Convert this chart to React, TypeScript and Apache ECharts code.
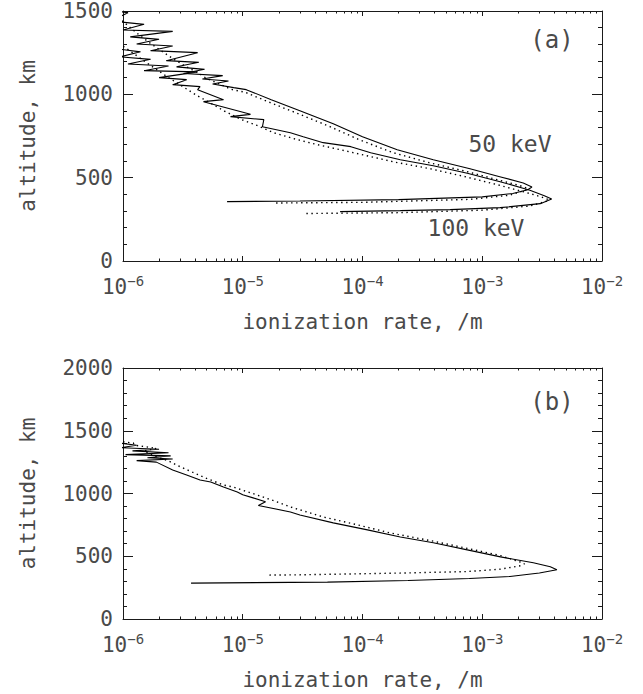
import React, { useEffect, useRef } from "react";
import * as echarts from "echarts";

// ---------- data (ionization rate [/m], altitude [km]) ----------
const X_MIN = 1e-6;
const X_MAX = 1e-2;
const Y_MAX_A = 1500;
const Y_MAX_B = 2000;
const Y_STEP = 500;

// Panel (a), 50 keV, solid
const A50_SOLID: number[][] = [
  [7.4e-6, 356], [3.0e-5, 360], [2.0e-4, 368], [1.0e-3, 385], [1.8e-3, 405], [2.4e-3, 428], [2.6e-3, 444],
  [2.2e-3, 468], [1.4e-3, 506], [7.9e-4, 554], [3.9e-4, 608], [1.95e-4, 668], [1.0e-4, 746], [5.7e-5, 824],
  [3.0e-5, 902], [1.73e-5, 968], [1.07e-5, 1028], [8.4e-6, 1040], [5.6e-6, 1062], [7.6e-6, 1080], [4.6e-6, 1092],
  [6.8e-6, 1112], [3.2e-6, 1125], [4.8e-6, 1150], [2.8e-6, 1165], [4.3e-6, 1192], [2.3e-6, 1202], [4.2e-6, 1250],
  [1.7e-6, 1262], [2.6e-6, 1290], [1.3e-6, 1302], [2.0e-6, 1330], [1.15e-6, 1345], [2.6e-6, 1378], [1.0e-6, 1386],
  [1.5e-6, 1420], [0.8e-6, 1440], [1.1e-6, 1490], [0.7e-6, 1510],
];
// Panel (a), 50 keV, dotted
const A50_DOT: number[][] = [
  [1.9e-5, 348], [1.0e-4, 352], [8.0e-4, 370], [1.7e-3, 395], [2.3e-3, 425], [2.4e-3, 436],
  [2.0e-3, 455], [1.3e-3, 490], [7.3e-4, 538], [3.6e-4, 590], [1.8e-4, 650], [9.5e-5, 726], [5.4e-5, 805],
  [2.9e-5, 884], [1.7e-5, 950], [1.05e-5, 1012], [8.0e-6, 1030], [6.5e-6, 1060], [5.0e-6, 1095], [4.2e-6, 1130],
  [3.3e-6, 1170], [2.6e-6, 1215], [2.1e-6, 1260], [1.7e-6, 1305], [1.4e-6, 1350], [1.15e-6, 1400], [0.95e-6, 1450],
];
// Panel (a), 100 keV, solid
const A100_SOLID: number[][] = [
  [6.5e-5, 296], [2.07e-4, 302], [5.4e-4, 308], [1.41e-3, 320], [3.05e-3, 344], [3.8e-3, 372],
  [3.3e-3, 392], [2.5e-3, 425], [1.41e-3, 476], [7.5e-4, 526], [3.9e-4, 572], [2.07e-4, 608], [1.17e-4, 650],
  [8.0e-5, 686], [4.7e-5, 710], [3.2e-5, 746], [2.5e-5, 770], [1.46e-5, 806], [1.5e-5, 848], [7.9e-6, 866],
  [1.16e-5, 880], [4.7e-6, 956], [6.9e-6, 968], [4.2e-6, 1028], [4.4e-6, 1046], [2.6e-6, 1058], [3.4e-6, 1088],
  [2.0e-6, 1100], [4.2e-6, 1135], [1.5e-6, 1142], [2.4e-6, 1170], [1.1e-6, 1182], [1.7e-6, 1210], [0.95e-6, 1225],
  [1.4e-6, 1255], [0.85e-6, 1275],
];
// Panel (a), 100 keV, dotted
const A100_DOT: number[][] = [
  [3.4e-5, 285], [2.0e-4, 290], [1.0e-3, 305], [2.5e-3, 330], [3.5e-3, 360], [3.6e-3, 368],
  [3.1e-3, 385], [2.3e-3, 412], [1.3e-3, 460], [7.0e-4, 508], [3.6e-4, 555], [1.9e-4, 592], [1.08e-4, 632],
  [6.5e-5, 668], [4.2e-5, 698], [2.8e-5, 730], [1.8e-5, 770], [1.3e-5, 815], [9.5e-6, 852], [7.0e-6, 900],
  [5.3e-6, 950], [4.0e-6, 1000], [3.1e-6, 1050], [2.4e-6, 1100], [1.9e-6, 1150], [1.5e-6, 1200], [1.2e-6, 1250],
  [0.95e-6, 1300],
];
// Panel (b), solid
const B_SOLID: number[][] = [
  [3.7e-6, 286], [5.1e-5, 294], [2.4e-4, 307], [7.8e-4, 323], [1.7e-3, 339], [3.0e-3, 366], [4.2e-3, 392],
  [3.7e-3, 416], [2.67e-3, 448], [1.42e-3, 495], [7.5e-4, 551], [3.9e-4, 607], [2.07e-4, 654], [1.1e-4, 710],
  [5.7e-5, 766], [3.0e-5, 829], [2.5e-5, 853], [1.35e-5, 905], [1.55e-5, 935], [1.22e-5, 965], [1.0e-5, 990],
  [9.0e-6, 1012], [6.9e-6, 1052], [5.4e-6, 1092], [4.4e-6, 1107], [3.4e-6, 1147], [2.6e-6, 1187], [1.9e-6, 1250],
  [1.3e-6, 1262], [2.6e-6, 1275], [1.6e-6, 1285], [2.5e-6, 1300], [1.05e-6, 1310], [2.4e-6, 1325], [1.2e-6, 1340],
  [2.0e-6, 1352], [0.95e-6, 1365], [1.3e-6, 1385], [0.8e-6, 1410],
];
// Panel (b), dotted
const B_DOT: number[][] = [
  [1.67e-5, 350], [3.0e-5, 352], [2.07e-4, 366], [7.5e-4, 378], [1.42e-3, 397], [2.1e-3, 425], [2.25e-3, 440],
  [2.1e-3, 452], [1.42e-3, 505], [7.5e-4, 563], [3.9e-4, 620], [1.7e-4, 686], [9.1e-5, 750], [4.7e-5, 813],
  [2.5e-5, 893], [1.95e-5, 932], [1.3e-5, 990], [8.3e-6, 1052], [6.9e-6, 1068], [5.0e-6, 1120], [3.8e-6, 1170],
  [2.9e-6, 1220], [2.4e-6, 1260], [1.8e-6, 1300], [1.5e-6, 1340], [1.9e-6, 1360], [1.25e-6, 1385], [1.22e-6, 1402],
  [1.0e-6, 1412], [0.8e-6, 1430],
];

const X_TITLE = "ionization rate, /m";
const Y_TITLE = "altitude, km";
const PANEL_LABELS = ["(a)", "(b)"];
const CURVE_LABELS = ["50 keV", "100 keV"];

// ---------- styling ----------
const FONT = '"DejaVu Sans Mono", monospace';
const TEXT = "#4a4a4a";
const LINE = "#1a1a1a";

const MINOR_X: number[] = [];
for (let d = -6; d < -2; d++) for (let k = 2; k <= 9; k++) MINOR_X.push(d + Math.log10(k));

function xMain(gridIndex: number, position: string, labels: boolean) {
  return {
    type: "log", logBase: 10, gridIndex, position, min: X_MIN, max: X_MAX,
    axisLine: { show: true, onZero: false, lineStyle: { color: LINE, width: 1 } },
    axisTick: { show: true, inside: true, length: 5, lineStyle: { color: LINE, width: 1 } },
    minorTick: { show: false }, splitLine: { show: false }, minorSplitLine: { show: false },
    axisLabel: labels
      ? {
          show: true, margin: 13,
          formatter: (v: number) => `{b|10}{s|\u2212${Math.abs(Math.round(Math.log10(v)))}}`,
          rich: {
            b: { fontSize: 21, fontFamily: FONT, color: TEXT, lineHeight: 26 },
            s: { fontSize: 14, fontFamily: FONT, color: TEXT, lineHeight: 18, verticalAlign: "top" },
          },
        }
      : { show: false },
    name: labels ? X_TITLE : "",
    nameLocation: "middle", nameGap: 61,
    nameTextStyle: { fontSize: 21, fontFamily: FONT, color: TEXT, verticalAlign: "middle" },
  };
}
function xMinor(gridIndex: number, position: string) {
  return {
    type: "value", gridIndex, position, min: -6, max: -2,
    axisLine: { show: false, onZero: false },
    axisTick: { show: true, inside: true, length: 2.5, customValues: MINOR_X, lineStyle: { color: LINE, width: 1 } },
    axisLabel: { show: false }, splitLine: { show: false },
  };
}
function yAx(gridIndex: number, position: string, max: number, labels: boolean) {
  return {
    type: "value", gridIndex, position, min: 0, max, interval: Y_STEP,
    axisLine: { show: true, onZero: false, lineStyle: { color: LINE, width: 1 } },
    axisTick: { show: true, inside: true, length: 10, lineStyle: { color: LINE, width: 1 } },
    minorTick: { show: true, splitNumber: 5, length: 4, lineStyle: { color: LINE, width: 1 } },
    splitLine: { show: false },
    axisLabel: labels
      ? { show: true, margin: 10, fontSize: 21, fontFamily: FONT, color: TEXT, formatter: (v: number) => String(v) }
      : { show: false },
    name: labels ? Y_TITLE : "",
    nameLocation: "middle", nameGap: 95,
    nameTextStyle: { fontSize: 21, fontFamily: FONT, color: TEXT, verticalAlign: "middle" },
  };
}
function curve(data: number[][], dotted: boolean, xAxisIndex: number, yAxisIndex: number) {
  return {
    type: "line", data, xAxisIndex, yAxisIndex, symbol: "none", showSymbol: false, clip: true,
    lineStyle: { color: "#000", width: dotted ? 1.4 : 1.1, type: dotted ? [1.4, 3.6] : "solid" },
    silent: true,
  };
}
function label(text: string, x: number, y: number, size = 23) {
  return {
    type: "text", x, y, silent: true,
    style: { text, fontSize: size, fontFamily: FONT, fill: TEXT, align: "center", verticalAlign: "middle" },
  };
}

export default function App() {
  const ref = useRef<HTMLDivElement>(null);
  useEffect(() => {
    if (!ref.current) return;
    const chart = echarts.init(ref.current, null, { renderer: "svg" });
    chart.setOption({
      animation: false,
      backgroundColor: "#fff",
      grid: [
        { left: 123, top: 11, width: 479, height: 250 },
        { left: 123, top: 368, width: 479, height: 251 },
      ],
      xAxis: [
        xMain(0, "bottom", true), xMain(0, "top", false), xMinor(0, "bottom"), xMinor(0, "top"),
        xMain(1, "bottom", true), xMain(1, "top", false), xMinor(1, "bottom"), xMinor(1, "top"),
      ],
      yAxis: [yAx(0, "left", Y_MAX_A, true), yAx(0, "right", Y_MAX_A, false), yAx(1, "left", Y_MAX_B, true), yAx(1, "right", Y_MAX_B, false)],
      series: [
        curve(A50_SOLID, false, 0, 0), curve(A50_DOT, true, 0, 0),
        curve(A100_SOLID, false, 0, 0), curve(A100_DOT, true, 0, 0),
        curve(B_SOLID, false, 4, 2), curve(B_DOT, true, 4, 2),
      ],
      graphic: [
        label(PANEL_LABELS[0], 552, 40, 24),
        label(CURVE_LABELS[0], 510, 144),
        label(CURVE_LABELS[1], 476, 228),
        label(PANEL_LABELS[1], 552, 402, 24),
      ],
    });
    return () => chart.dispose();
  }, []);
  return <div ref={ref} style={{ position: "fixed", left: 0, top: 0, width: 643, height: 694, background: "#fff" }} />;
}
